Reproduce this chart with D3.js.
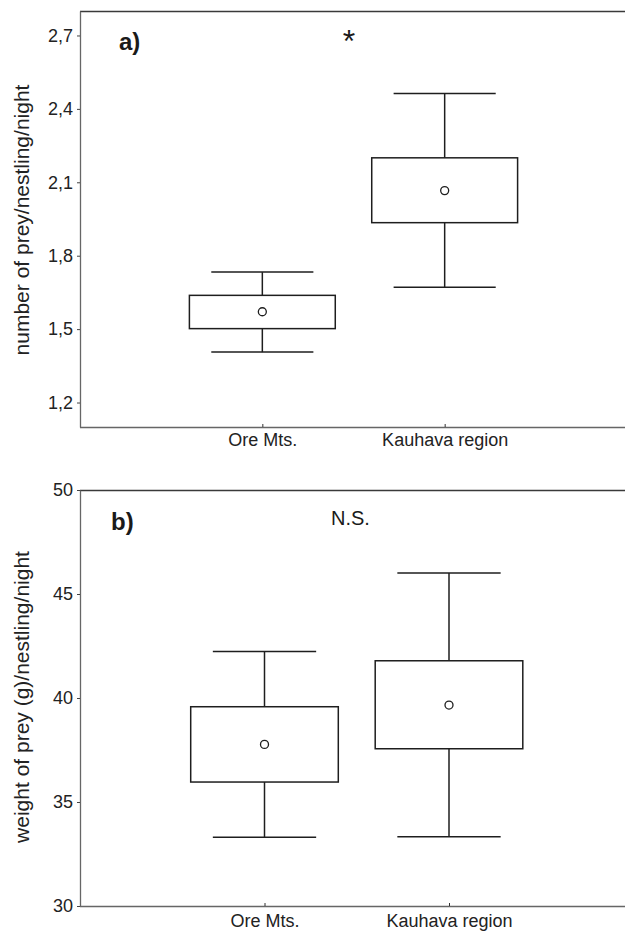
<!DOCTYPE html>
<html>
<head>
<meta charset="utf-8">
<script src="https://cdn.jsdelivr.net/npm/d3@7"></script>
<style>
  html, body { margin: 0; padding: 0; background: #fff; }
  svg { display: block; font-family: "Liberation Sans", Arial, Helvetica, sans-serif; }
</style>
</head>
<body>
<svg id="chart" width="625" height="931"></svg>
<script>
// ---- data ----
const categories = ["Ore Mts.", "Kauhava region"];

// panel a: number of prey/nestling/night
const aWhiskerLow  = [1.406, 1.671];
const aBoxLow      = [1.502, 1.935];
const aMean        = [1.571, 2.066];
const aBoxHigh     = [1.638, 2.200];
const aWhiskerHigh = [1.733, 2.463];
const aTicks       = [1.2, 1.5, 1.8, 2.1, 2.4, 2.7];

// panel b: weight of prey (g)/nestling/night
const bWhiskerLow  = [33.30, 33.33];
const bBoxLow      = [35.96, 37.56];
const bMean        = [37.77, 39.66];
const bBoxHigh     = [39.58, 41.79];
const bWhiskerHigh = [42.23, 46.01];
const bTicks       = [30, 35, 40, 45, 50];

const svg = d3.select("#chart");
const W = 625;

function panel(cfg) {
  const g = svg.append("g");
  const x = d3.scalePoint().domain(categories).range(cfg.xRange).padding(1);
  const y = d3.scaleLinear().domain(cfg.domain).range([cfg.bottom, cfg.top]);
  const step = x.step();
  const boxW = step * 0.8, capW = step * 0.56;
  const left = cfg.xRange[0];

  // top border
  g.append("line").attr("x1", left).attr("x2", W).attr("y1", cfg.top + 0.5).attr("y2", cfg.top + 0.5)
    .attr("stroke", "#3a3a3a").attr("stroke-width", 1.3);

  // y axis
  const ya = g.append("g").attr("transform", `translate(${left},0)`)
    .call(d3.axisLeft(y).tickValues(cfg.ticks).tickSizeOuter(0).tickSizeInner(3).tickPadding(4)
      .tickFormat(cfg.fmt));
  ya.select(".domain").attr("stroke", "#666").attr("stroke-width", 1.3);
  ya.selectAll(".tick line").attr("stroke", "#444");
  ya.selectAll("text").attr("font-size", 18).attr("fill", "#222")
    .attr("font-family", "'Liberation Sans', Arial, sans-serif");

  // x axis
  const xa = g.append("g").attr("transform", `translate(0,${cfg.bottom})`)
    .call(d3.axisBottom(x).tickSizeOuter(0).tickSizeInner(-3).tickPadding(cfg.xPad));
  xa.select(".domain").attr("d", `M${left},0.5H${W}`).attr("stroke", "#666").attr("stroke-width", 1.3);
  xa.selectAll(".tick line").attr("stroke", "#333");
  xa.selectAll("text").attr("font-size", 18).attr("fill", "#222")
    .attr("font-family", "'Liberation Sans', Arial, sans-serif");

  // y title
  g.append("text").attr("transform", `translate(${cfg.titleX},${(cfg.top + cfg.bottom) / 2 + cfg.titleDy}) rotate(-90)`)
    .attr("text-anchor", "middle").attr("font-size", 21).attr("fill", "#222").text(cfg.title);

  // boxes
  const items = categories.map((c, i) => ({
    c, lo: cfg.wl[i], q1: cfg.bl[i], m: cfg.mean[i], q3: cfg.bh[i], hi: cfg.wh[i]
  }));
  const bx = g.selectAll(".bx").data(items).join("g").attr("class", "bx");
  const sc = "#1e1e1e", sw = 1.5;
  bx.append("line").attr("x1", d => x(d.c)).attr("x2", d => x(d.c))
    .attr("y1", d => y(d.hi)).attr("y2", d => y(d.q3)).attr("stroke", sc).attr("stroke-width", sw);
  bx.append("line").attr("x1", d => x(d.c)).attr("x2", d => x(d.c))
    .attr("y1", d => y(d.q1)).attr("y2", d => y(d.lo)).attr("stroke", sc).attr("stroke-width", sw);
  bx.append("line").attr("x1", d => x(d.c) - capW / 2).attr("x2", d => x(d.c) + capW / 2)
    .attr("y1", d => y(d.hi)).attr("y2", d => y(d.hi)).attr("stroke", sc).attr("stroke-width", sw);
  bx.append("line").attr("x1", d => x(d.c) - capW / 2).attr("x2", d => x(d.c) + capW / 2)
    .attr("y1", d => y(d.lo)).attr("y2", d => y(d.lo)).attr("stroke", sc).attr("stroke-width", sw);
  bx.append("rect").attr("x", d => x(d.c) - boxW / 2).attr("width", boxW)
    .attr("y", d => y(d.q3)).attr("height", d => y(d.q1) - y(d.q3))
    .attr("fill", "none").attr("stroke", sc).attr("stroke-width", sw);
  bx.append("circle").attr("cx", d => x(d.c)).attr("cy", d => y(d.m)).attr("r", 4)
    .attr("fill", "#fff").attr("stroke", sc).attr("stroke-width", 1.3);

  // panel label
  g.append("text").attr("x", cfg.labelX).attr("y", cfg.labelY).attr("font-size", 24)
    .attr("font-weight", "bold").attr("fill", "#1a1a1a").text(cfg.label);
  return g;
}

panel({
  xRange: [80, 627], domain: [1.1, 2.8], top: 11, bottom: 427, ticks: aTicks,
  fmt: d => d3.format(".1f")(d).replace(".", ","),
  wl: aWhiskerLow, bl: aBoxLow, mean: aMean, bh: aBoxHigh, wh: aWhiskerHigh,
  title: "number of prey/nestling/night", titleX: 29, titleDy: 1,
  label: "a)", labelX: 119, labelY: 50, xPad: 6
});
svg.append("text").attr("x", 349).attr("y", 52).attr("text-anchor", "middle")
  .attr("font-size", 32).attr("fill", "#1a1a1a").text("*");

panel({
  xRange: [80, 633.5], domain: [30, 50], top: 490, bottom: 906, ticks: bTicks,
  fmt: d3.format("d"),
  wl: bWhiskerLow, bl: bBoxLow, mean: bMean, bh: bBoxHigh, wh: bWhiskerHigh,
  title: "weight of prey (g)/nestling/night", titleX: 29, titleDy: -1,
  label: "b)", labelX: 111, labelY: 530, xPad: 8
});
svg.append("text").attr("x", 331).attr("y", 525).attr("font-size", 20)
  .attr("fill", "#1a1a1a").text("N.S.");
</script>
</body>
</html>
